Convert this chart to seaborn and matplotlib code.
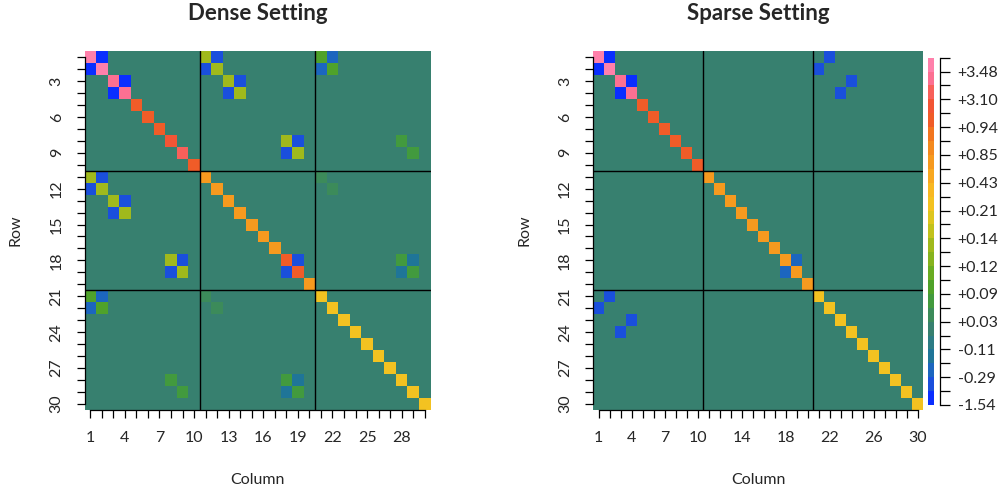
import numpy as np
import pandas as pd
import seaborn as sns
import matplotlib.pyplot as plt
from matplotlib.colors import ListedColormap, BoundaryNorm
from matplotlib.cm import ScalarMappable

sns.set_style("white")
plt.rcParams['font.family'] = ['Lato', 'DejaVu Sans']

n = 30

# colour key: labelled breaks (bottom to top) and the unlabelled breaks in between
key_labels = [-1.54, -0.29, -0.11, 0.03, 0.09, 0.12, 0.14, 0.21, 0.43, 0.85, 0.94, 3.10, 3.48]
mid_breaks = [-0.9, -0.2, -0.04, 0.06, 0.105, 0.13, 0.175, 0.32, 0.64, 0.895, 2.0, 3.3, 3.62]

key_colors = ["#0a2eff", "#1a4fdc", "#1c66bf", "#1f7598", "#2c7c84", "#37806f",
              "#3c8b5a", "#429a3e", "#4fa22a", "#6aac22", "#86b31e", "#a0b91c",
              "#c2c21c", "#dec61f", "#f3c221", "#f8b822", "#f8a821", "#f69a1f",
              "#f48a1f", "#f27620", "#f05c28", "#f25535", "#f8605a", "#fc7092",
              "#ff80ab"]

# diagonal values
dense_diag = [3.55, 3.55, 3.4, 3.4, 1.5, 1.5, 1.5, 2.2, 3.2, 1.2,
              0.75, 0.75, 0.75, 0.75, 0.75, 0.75, 0.75, 1.0, 1.0, 0.75,
              0.25, 0.25, 0.25, 0.25, 0.25, 0.25, 0.25, 0.25, 0.25, 0.25]
sparse_diag = [3.55, 3.55, 3.4, 3.4, 1.5, 1.5, 1.5, 1.5, 1.5, 1.2,
               0.75, 0.75, 0.75, 0.75, 0.75, 0.75, 0.75, 0.75, 0.75, 0.75,
               0.25, 0.25, 0.25, 0.25, 0.25, 0.25, 0.25, 0.25, 0.25, 0.25]

# off-diagonal entries (upper triangle, 1-based), mirrored below
dense_rows = [1, 3, 1, 1, 2, 2, 3, 3, 4, 4, 8, 8, 9, 9,
              1, 1, 2, 2, 8, 9, 11, 12, 18, 18, 18, 19, 19]
dense_cols = [2, 4, 11, 12, 11, 12, 13, 14, 13, 14, 18, 19, 18, 19,
              21, 22, 21, 22, 28, 29, 21, 22, 19, 28, 29, 28, 29]
dense_vals = [-1.2, -1.2, 0.135, -0.5, -0.5, 0.135, 0.135, -0.5, -0.5, 0.135,
              0.135, -0.5, -0.5, 0.135,
              0.1, -0.25, -0.25, 0.1, 0.07, 0.07, 0.045, 0.045,
              -0.5, 0.08, -0.15, -0.15, 0.08]

sparse_rows = [1, 3, 1, 2, 3, 4, 18]
sparse_cols = [2, 4, 22, 21, 24, 23, 19]
sparse_vals = [-1.2, -1.2, -0.5, -0.5, -0.5, -0.5, -0.25]

dense_xlabels = [1, 4, 7, 10, 13, 16, 19, 22, 25, 28]
sparse_xlabels = [1, 4, 7, 10, 14, 18, 22, 26, 30]
ylabels = [3, 6, 9, 12, 15, 18, 21, 24, 27, 30]

breaks = sorted(key_labels + mid_breaks)
cmap = ListedColormap(key_colors)
norm = BoundaryNorm(breaks, cmap.N)

W, H = 1005, 495


def build(diag, rows, cols, vals):
    m = np.zeros((n, n))
    np.fill_diagonal(m, diag)
    for r, c, v in zip(rows, cols, vals):
        m[r - 1, c - 1] = v
        m[c - 1, r - 1] = v
    return pd.DataFrame(m, index=range(1, n + 1), columns=range(1, n + 1))


def draw(ax, mat, xlabs, title, wpx, hpx):
    sns.heatmap(mat, ax=ax, cmap=cmap, norm=norm, cbar=False,
                xticklabels=False, yticklabels=False)
    for k in (10, 20):
        ax.axhline(k, color='black', lw=1)
        ax.axvline(k, color='black', lw=1)
    pos = np.arange(n) + 0.5
    ax.set_xticks(pos)
    ax.set_xticklabels([str(i) if i in xlabs else '' for i in range(1, n + 1)])
    ax.set_yticks(pos)
    ax.set_yticklabels([str(i) if i in ylabels else '' for i in range(1, n + 1)],
                       rotation=90, va='center')
    for side in ('left', 'bottom'):
        ax.spines[side].set_visible(True)
        ax.spines[side].set_color('black')
        ax.spines[side].set_linewidth(0.9)
        ax.spines[side].set_bounds(0.5, n - 0.5)
    ax.tick_params(axis='both', length=6, width=0.9, color='black',
                   labelsize=11.5, pad=9, left=True, bottom=True)
    ax.set_xlabel('Column', fontsize=11.5)
    ax.set_ylabel('Row', fontsize=11.5)
    ax.xaxis.set_label_coords(0.5, -63 / hpx)
    ax.yaxis.set_label_coords(-62 / wpx, 0.5)
    ax.set_title(title, fontsize=16, fontweight='bold', pad=22)


dense = build(dense_diag, dense_rows, dense_cols, dense_vals)
sparse = build(sparse_diag, sparse_rows, sparse_cols, sparse_vals)

fig = plt.figure(figsize=(W / 100, H / 100), dpi=100)
ax1 = fig.add_axes([84.5 / W, 85 / H, 346 / W, 359 / H])
ax2 = fig.add_axes([593 / W, 85 / H, 330 / W, 359 / H])
cax = fig.add_axes([928 / W, 90 / H, 6 / W, 347.3 / H])

draw(ax1, dense, dense_xlabels, 'Dense Setting', 346, 359)
draw(ax2, sparse, sparse_xlabels, 'Sparse Setting', 330, 359)

cbar = fig.colorbar(ScalarMappable(norm=norm, cmap=cmap), cax=cax, spacing='uniform')
cbar.outline.set_visible(False)
cbar.set_ticks(breaks)
cbar.set_ticklabels([f"{v:+.2f}" if i % 2 == 0 else '' for i, v in enumerate(breaks)])
cax.spines['right'].set_visible(True)
cax.spines['right'].set_position(('outward', 4))
cax.spines['right'].set_color('black')
cax.spines['right'].set_linewidth(0.9)
cax.tick_params(axis='y', length=7, width=0.9, color='black', labelsize=11.5, pad=6)

fig.savefig('out.png', dpi=100)
